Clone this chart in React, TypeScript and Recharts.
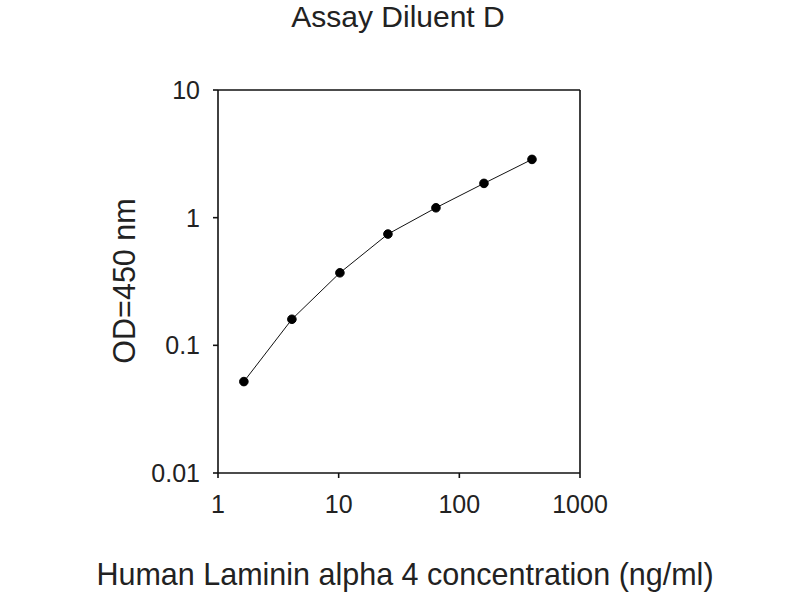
import React from "react";
import { LineChart, Line, XAxis, YAxis, ReferenceLine } from "recharts";

// 2.5-fold dilution series (ng/ml) and OD readings
const concentrations = [1.6384, 4.096, 10.24, 25.6, 64, 160, 400];
const odValues = [0.052, 0.16, 0.37, 0.744, 1.195, 1.856, 2.86];

const xTicks = [1, 10, 100, 1000];
const yTicks = [0.01, 0.1, 1, 10];

const TITLE = "Assay Diluent D";
const X_LABEL = "Human Laminin alpha 4 concentration (ng/ml)";
const Y_LABEL = "OD=450 nm";

const FONT = "'Liberation Sans', Arial, sans-serif";

export default function App() {
  const data = concentrations.map((conc, i) => ({ conc, od: odValues[i] }));

  const axisStroke = { stroke: "#111", strokeWidth: 1.6 };
  const tickStyle = { fontSize: 25, fill: "#222", fontFamily: FONT };

  return (
    <div
      style={{
        position: "absolute",
        left: 0,
        top: 0,
        width: 800,
        height: 600,
        background: "#fff",
        fontFamily: FONT,
      }}
    >
      <LineChart
        width={800}
        height={600}
        data={data}
        margin={{ top: 90, right: 220, bottom: 87, left: 138 }}
      >
        <XAxis
          dataKey="conc"
          type="number"
          scale="log"
          domain={[1, 1000]}
          ticks={xTicks}
          allowDataOverflow
          height={40}
          axisLine={axisStroke}
          tickLine={axisStroke}
          tickSize={5}
          tickMargin={17}
          tick={tickStyle}
        />
        <YAxis
          type="number"
          scale="log"
          domain={[0.01, 10]}
          ticks={yTicks}
          allowDataOverflow
          width={80}
          axisLine={axisStroke}
          tickLine={axisStroke}
          tickSize={5}
          tickMargin={13}
          tick={tickStyle}
        />
        {/* top and right edges of the frame */}
        <ReferenceLine y={10} stroke="#111" strokeWidth={1.6} />
        <ReferenceLine x={1000} stroke="#111" strokeWidth={1.6} />
        <Line
          type="linear"
          dataKey="od"
          stroke="#111"
          strokeWidth={1}
          dot={{ r: 4.3, fill: "#000", stroke: "#000", strokeWidth: 1 }}
          isAnimationActive={false}
        />
      </LineChart>

      <div
        style={{
          position: "absolute",
          left: 0,
          width: 796,
          top: 0,
          textAlign: "center",
          fontSize: 30,
          color: "#222",
          lineHeight: "34px",
        }}
      >
        {TITLE}
      </div>
      <div
        style={{
          position: "absolute",
          left: 0,
          width: 810,
          top: 557,
          textAlign: "center",
          fontSize: 30.5,
          color: "#222",
          lineHeight: "34px",
        }}
      >
        {X_LABEL}
      </div>
      <div
        style={{
          position: "absolute",
          left: 124,
          top: 281,
          transform: "translate(-50%, -50%) rotate(-90deg)",
          whiteSpace: "nowrap",
          fontSize: 30.5,
          color: "#222",
          lineHeight: "34px",
        }}
      >
        {Y_LABEL}
      </div>
    </div>
  );
}
